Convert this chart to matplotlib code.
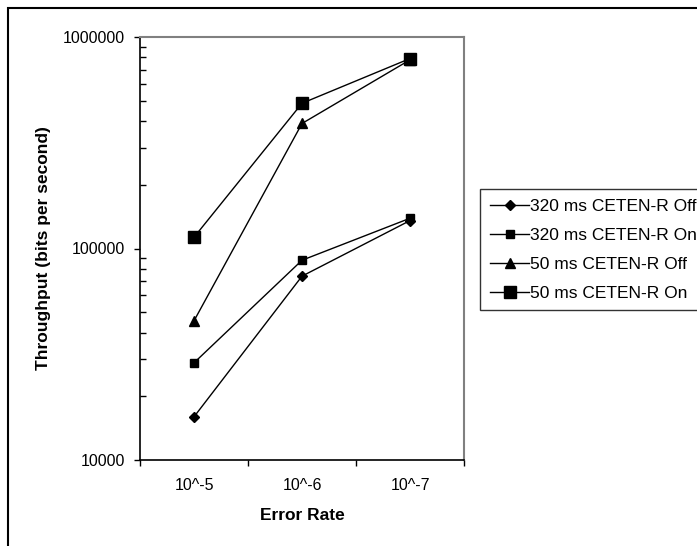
import numpy as np
import matplotlib
matplotlib.use("Agg")
import matplotlib.pyplot as plt
from matplotlib.ticker import FixedLocator, FixedFormatter, LogLocator, NullFormatter
from matplotlib.patches import Rectangle

plt.rcParams['font.family'] = ['Liberation Sans', 'DejaVu Sans']

categories = ["10^-5", "10^-6", "10^-7"]
series_names = ["320 ms CETEN-R Off", "320 ms CETEN-R On", "50 ms CETEN-R Off", "50 ms CETEN-R On"]
off_320 = [16000, 74000, 135500]
on_320 = [28800, 88000, 139000]
off_50 = [45500, 390000, 780000]
on_50 = [113000, 486000, 791000]
y_ticks = [10000, 100000, 1000000]
y_tick_labels = ["10000", "100000", "1000000"]

W, H = 697, 546
fig = plt.figure(figsize=(W / 100, H / 100), dpi=100)
ax = fig.add_axes([140 / W, 1 - 460 / H, (464 - 140) / W, (460 - 37) / H])

x = np.arange(len(categories))
styles = [
    dict(marker='D', markersize=5.5),
    dict(marker='s', markersize=5.5),
    dict(marker='^', markersize=6.5),
    dict(marker='s', markersize=9),
]
for vals, name, st in zip([off_320, on_320, off_50, on_50], series_names, styles):
    ax.plot(x, vals, color='black', lw=1, markerfacecolor='black', markeredgecolor='black',
            label=name, clip_on=False, **st)

ax.set_yscale('log')
ax.set_ylim(1e4, 1e6)
ax.set_xlim(-0.5, len(categories) - 0.5)

ax.yaxis.set_major_locator(FixedLocator(y_ticks))
ax.yaxis.set_major_formatter(FixedFormatter(y_tick_labels))
ax.yaxis.set_minor_locator(LogLocator(base=10, subs=np.arange(2, 10)))
ax.yaxis.set_minor_formatter(NullFormatter())
ax.tick_params(axis='y', which='major', direction='out', length=4, width=1, labelsize=11.5, pad=7)
ax.tick_params(axis='y', which='minor', direction='in', length=4, width=1)

ax.set_xticks(x)
ax.set_xticklabels(categories)
ax.set_xticks(np.arange(len(categories) + 1) - 0.5, minor=True)
ax.tick_params(axis='x', which='major', length=0, labelsize=11.5, pad=13)
ax.tick_params(axis='x', which='minor', direction='out', length=4, width=1)

for s in ['left', 'bottom']:
    ax.spines[s].set_color('black')
    ax.spines[s].set_linewidth(1.2)
for s in ['top', 'right']:
    ax.spines[s].set_color('#808080')
    ax.spines[s].set_linewidth(1.5)

ax.set_xlabel("Error Rate", fontsize=12.5, fontweight='bold', labelpad=11)
ax.set_ylabel("Throughput (bits per second)", fontsize=12.5, fontweight='bold', labelpad=8.5)

# outer chart border (only left and top visible)
fig.add_artist(Rectangle((8 / W, -0.2), 1.2, 1.2 - 8 / H, transform=fig.transFigure,
                         fill=False, edgecolor='black', lw=1.5, clip_on=False))

leg = fig.legend(loc='upper left', bbox_to_anchor=(480 / W, 1 - 189 / H),
                 fontsize=12.5, frameon=True, fancybox=False, edgecolor='black',
                 handlelength=2.3, handletextpad=0.05, labelspacing=0.8,
                 borderpad=0.55, borderaxespad=0)
leg.get_frame().set_linewidth(1)

fig.savefig("out.png", dpi=100)
